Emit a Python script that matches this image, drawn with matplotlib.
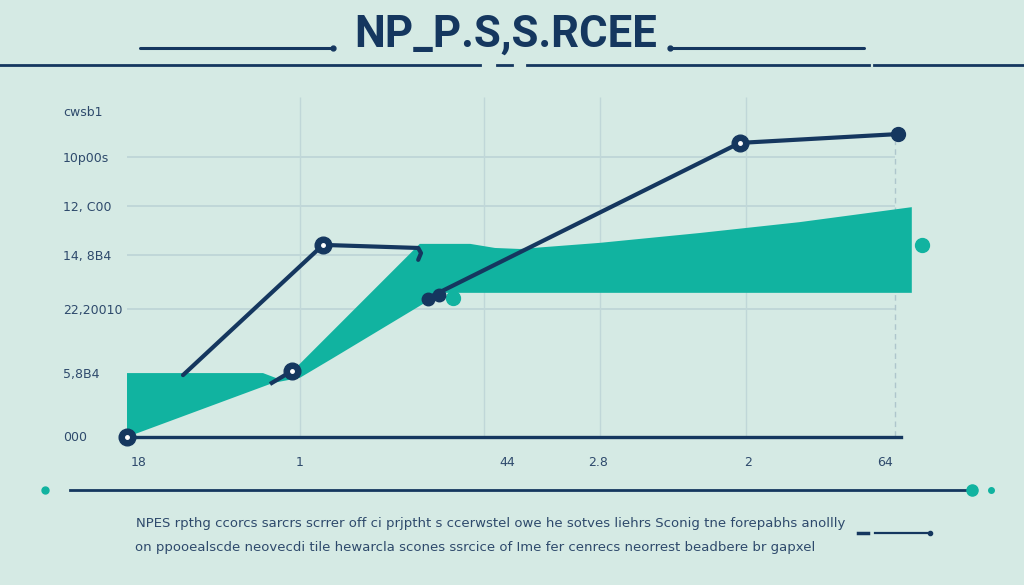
import matplotlib
matplotlib.use("Agg")
import matplotlib.pyplot as plt

BG = '#d5eae4'
NAVY = '#15375f'
TEAL = '#11b3a0'
GRID = '#c0d7d8'
INK = '#2e4a6c'

# value axis: printed labels and their positions on the 0-100 scale
ytick_vals = [0.3, 18.8, 37.6, 53.5, 67.9, 82.4, 95.9]
ytick_labels = ['000', '5,8B4', '22,20010', '14, 8B4', '12, C00', '10p00s', 'cwsb1']
grid_y = [37.6, 53.5, 67.9, 82.4]

# category axis
xtick_vals = [1.4, 21.6, 47.5, 58.9, 77.6, 94.75]
xtick_labels = ['18', '1', '44', '2.8', '2', '64']
vgrid_x = [21.6, 44.6, 59.1, 77.4]
dash_x = 96.0
axis_end = 96.8

# teal band (upper edge left->right, lower edge right->left)
band_top_x = [0, 17.0, 18.9, 20.6, 21.6, 36.6, 42.9, 46.0, 49.1, 59.1, 71.6, 84.1, 98.1]
band_top_y = [18.8, 18.8, 17.1, 19.1, 21.5, 56.8, 56.8, 55.6, 55.3, 57.1, 60.0, 63.2, 67.6]
band_bot_x = [98.1, 39.75, 38.25, 25.75, 21.6, 18.25, 0]
band_bot_y = [42.4, 42.4, 40.9, 23.2, 17.4, 15.9, 0]

# navy line pieces
seg_a_x = [7.0, 24.5, 36.4, 36.75, 36.4]
seg_a_y = [18.2, 56.5, 55.6, 54.1, 52.1]
seg_b_x = [37.9, 76.6, 96.4]
seg_b_y = [41.2, 86.5, 89.1]
seg_c_x = [18.1, 20.6]
seg_c_y = [15.9, 19.4]

ring_x = [0, 20.6, 24.5, 76.6]
ring_y = [0, 19.4, 56.5, 86.5]
knot_x = [37.6, 39.0]
knot_y = [40.6, 41.9]
end_pt_x = [96.4]
end_pt_y = [89.1]
teal_pt_x = [40.75, 99.4]
teal_pt_y = [40.9, 56.5]

title = 'NP_P.S,S.RCEE'
note_1 = ('NPES rpthg ccorcs sarcrs scrrer off ci prjptht s ccerwstel owe he '
          'sotves liehrs Sconig tne forepabhs anollly')
note_2 = ('on ppooealscde neovecdi tile hewarcla scones ssrcice of Ime fer '
          'cenrecs neorrest beadbere br gapxel')

fig = plt.figure(figsize=(10.24, 5.85), dpi=100, facecolor=BG)

# decoration layer in pixel units
deco = fig.add_axes([0, 0, 1, 1], zorder=0)
deco.set_xlim(0, 1024)
deco.set_ylim(585, 0)
deco.axis('off')
deco.set_facecolor(BG)

deco.text(506, 47, title, ha='center', va='baseline', fontsize=31.5,
          fontweight='bold', color=NAVY, family=['Roboto', 'DejaVu Sans'])
deco.plot([140, 332], [48, 48], color=NAVY, lw=2.2, solid_capstyle='round')
deco.plot([333], [48], 'o', color=NAVY, ms=3.5)
deco.plot([670, 864], [48, 48], color=NAVY, lw=2.2, solid_capstyle='round')
deco.plot([670], [48], 'o', color=NAVY, ms=3.5)
for xs in ([0, 480], [527, 869], [874, 1024]):
    deco.plot(xs, [65, 65], color=NAVY, lw=2)
deco.plot([497, 512], [65, 65], color=NAVY, lw=2)

deco.plot([70, 968], [490, 490], color=NAVY, lw=2)
deco.plot([45], [490], 'o', color=TEAL, ms=5)
deco.plot([972], [490], 'o', color=TEAL, ms=8)
deco.plot([991], [490], 'o', color=TEAL, ms=4)

deco.text(136, 523, note_1, ha='left', va='center', fontsize=9.5, color=INK)
deco.text(135, 548, note_2, ha='left', va='center', fontsize=9.5, color=INK)
deco.plot([858, 868], [533, 533], color=NAVY, lw=2.5)
deco.plot([875, 930], [533, 533], color=NAVY, lw=1.6)
deco.plot([930], [533], 'o', color=NAVY, ms=3)

# chart
ax = fig.add_axes([127 / 1024, 148 / 585, 800 / 1024, 340 / 585], zorder=1)
ax.set_facecolor('none')
ax.set_xlim(0, 100)
ax.set_ylim(0, 100)
for s in ax.spines.values():
    s.set_visible(False)

ax.hlines(grid_y, 0, dash_x, color=GRID, lw=1.4, zorder=1)
ax.vlines(vgrid_x, -2.5, 100, color=GRID, lw=1, zorder=1)
ax.vlines([dash_x], -2.5, 89, color='#aec6cc', lw=1, ls=(0, (4, 3)), zorder=1)

ax.fill(band_top_x + band_bot_x, band_top_y + band_bot_y, color=TEAL,
        lw=0, zorder=2)

ax.plot([0, axis_end], [0, 0], color=NAVY, lw=2.4, zorder=3, clip_on=False)
ax.plot(seg_a_x, seg_a_y, color=NAVY, lw=3, zorder=4, solid_capstyle='round')
ax.plot(seg_b_x, seg_b_y, color=NAVY, lw=3, zorder=4, solid_capstyle='round')
ax.plot(seg_c_x, seg_c_y, color=NAVY, lw=3, zorder=4)

ax.plot(ring_x, ring_y, 'o', color=NAVY, ms=12, zorder=5, clip_on=False)
ax.plot(ring_x, ring_y, 'o', color='white', ms=2.5, zorder=6, clip_on=False)
ax.plot(knot_x, knot_y, 'o', color=NAVY, ms=9, zorder=5)
ax.plot(end_pt_x, end_pt_y, 'o', color=NAVY, ms=10, zorder=5)
ax.plot(teal_pt_x, teal_pt_y, 'o', color=TEAL, ms=10, zorder=3, clip_on=False)

ax.set_yticks(ytick_vals, ytick_labels)
ax.tick_params(axis='y', length=0, pad=46, labelsize=9, labelcolor=INK)
for lab in ax.get_yticklabels():
    lab.set_ha('left')
ax.set_xticks(xtick_vals, xtick_labels)
ax.tick_params(axis='x', length=0, pad=14, labelsize=9, labelcolor=INK)

fig.savefig('out.png', dpi=100, facecolor=BG)
